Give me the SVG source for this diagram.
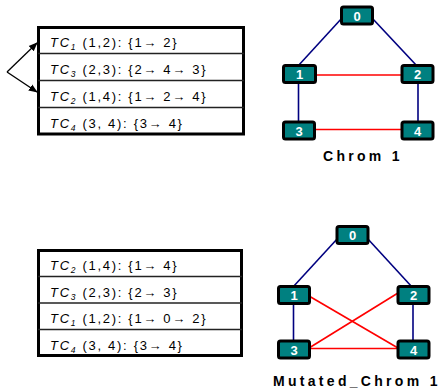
<svg xmlns="http://www.w3.org/2000/svg" width="444" height="392" viewBox="0 0 444 392">
<defs>
<marker id="ah" viewBox="0 0 10 10" refX="9" refY="5" markerWidth="9" markerHeight="9" orient="auto" markerUnits="userSpaceOnUse">
<path d="M0,1 L10,5 L0,9 z" fill="#000"/>
</marker>
</defs>
<style>
.tbl{fill:#fff;stroke:#000;stroke-width:3}
.div{stroke:#222;stroke-width:1.5}
.row{font-family:"Liberation Sans",Arial,sans-serif;font-size:13px;fill:#000;letter-spacing:1.7px}
.it{font-style:italic}
.sub{font-style:italic;font-size:8.5px}
.node rect{fill:#008080;stroke:#000;stroke-width:3}
.node text{font-family:"Liberation Sans",Arial,sans-serif;font-weight:bold;font-size:13px;fill:#fff;text-anchor:middle}
.blue{stroke:#000080;stroke-width:1.6;fill:none}
.red{stroke:#ff0000;stroke-width:1.6;fill:none}
.lbl{font-family:"Liberation Sans",Arial,sans-serif;font-weight:bold;font-size:14px;fill:#000;letter-spacing:3.3px}
</style>

<!-- top table -->
<g id="table1">
<rect class="tbl" x="38.5" y="27.5" width="205" height="106.5"/>
<line class="div" x1="38" y1="53.5" x2="244" y2="53.5"/>
<line class="div" x1="38" y1="80.5" x2="244" y2="80.5"/>
<line class="div" x1="38" y1="107.5" x2="244" y2="107.5"/>
<text class="row" x="50" y="47"><tspan class="it">TC</tspan><tspan class="sub" dy="3">1</tspan><tspan dy="-3"> (1,2): {1→ 2}</tspan></text>
<text class="row" x="50" y="73.5"><tspan class="it">TC</tspan><tspan class="sub" dy="3">3</tspan><tspan dy="-3"> (2,3): {2→ 4→ 3}</tspan></text>
<text class="row" x="50" y="100.5"><tspan class="it">TC</tspan><tspan class="sub" dy="3">2</tspan><tspan dy="-3"> (1,4): {1→ 2→ 4}</tspan></text>
<text class="row" x="50" y="127.5"><tspan class="it">TC</tspan><tspan class="sub" dy="3">4</tspan><tspan dy="-3"> (3, 4): {3→ 4}</tspan></text>
</g>

<!-- bottom table -->
<g id="table2">
<rect class="tbl" x="38.5" y="250.5" width="203" height="105"/>
<line class="div" x1="38" y1="276.5" x2="242" y2="276.5"/>
<line class="div" x1="38" y1="303" x2="242" y2="303"/>
<line class="div" x1="38" y1="329.5" x2="242" y2="329.5"/>
<text class="row" x="50" y="270"><tspan class="it">TC</tspan><tspan class="sub" dy="3">2</tspan><tspan dy="-3"> (1,4): {1→ 4}</tspan></text>
<text class="row" x="50" y="296.5"><tspan class="it">TC</tspan><tspan class="sub" dy="3">3</tspan><tspan dy="-3"> (2,3): {2→ 3}</tspan></text>
<text class="row" x="50" y="323"><tspan class="it">TC</tspan><tspan class="sub" dy="3">1</tspan><tspan dy="-3"> (1,2): {1→ 0→ 2}</tspan></text>
<text class="row" x="50" y="349.5"><tspan class="it">TC</tspan><tspan class="sub" dy="3">4</tspan><tspan dy="-3"> (3, 4): {3→ 4}</tspan></text>
</g>

<!-- connectors -->
<g id="connectors">
<line x1="7" y1="72" x2="37" y2="43" stroke="#000" stroke-width="1.3" marker-end="url(#ah)"/>
<line x1="7" y1="72" x2="37" y2="92" stroke="#000" stroke-width="1.3" marker-end="url(#ah)"/>

<line class="blue" x1="342" y1="18" x2="298" y2="66"/>
<line class="blue" x1="372" y1="18" x2="417" y2="66"/>
<line class="blue" x1="298.5" y1="83" x2="298.5" y2="122"/>
<line class="blue" x1="418" y1="83" x2="418" y2="122"/>
<line class="red" x1="315" y1="75" x2="403" y2="75"/>
<line class="red" x1="315" y1="129.5" x2="403" y2="129.5"/>

<line class="blue" x1="338" y1="238" x2="293" y2="287"/>
<line class="blue" x1="367" y1="238" x2="412" y2="287"/>
<line class="blue" x1="293.5" y1="303" x2="293.5" y2="342"/>
<line class="blue" x1="413" y1="303" x2="413" y2="342"/>
<line class="red" x1="309" y1="296" x2="398" y2="348"/>
<line class="red" x1="398" y1="293" x2="309" y2="348"/>
<line class="red" x1="309" y1="348.5" x2="398" y2="348.5"/>
</g>

<!-- top graph nodes -->
<g id="c1n0" class="node"><rect x="341.5" y="7" width="31" height="17" rx="2"/><text x="357" y="20.5">0</text></g>
<g id="c1n1" class="node"><rect x="283.5" y="65.5" width="32" height="17" rx="2"/><text x="299.5" y="79">1</text></g>
<g id="c1n2" class="node"><rect x="402" y="65.5" width="31" height="17" rx="2"/><text x="417.5" y="79">2</text></g>
<g id="c1n3" class="node"><rect x="283.5" y="122" width="31" height="17" rx="2"/><text x="299" y="135.5">3</text></g>
<g id="c1n4" class="node"><rect x="402" y="122" width="31" height="17" rx="2"/><text x="417.5" y="135.5">4</text></g>
<text id="lbl1" class="lbl" x="323" y="161">Chrom 1</text>

<!-- bottom graph nodes -->
<g id="c2n0" class="node"><rect x="337" y="226.5" width="31" height="17" rx="2"/><text x="352.5" y="240">0</text></g>
<g id="c2n1" class="node"><rect x="278.5" y="286.5" width="31" height="17" rx="2"/><text x="294" y="300">1</text></g>
<g id="c2n2" class="node"><rect x="398" y="286.5" width="31" height="17" rx="2"/><text x="413.5" y="300">2</text></g>
<g id="c2n3" class="node"><rect x="278.5" y="341" width="31" height="17" rx="2"/><text x="294" y="354.5">3</text></g>
<g id="c2n4" class="node"><rect x="398" y="341" width="31" height="17" rx="2"/><text x="413.5" y="354.5">4</text></g>
<text id="lbl2" class="lbl" x="273" y="386">Mutated_Chrom 1</text>
</svg>
